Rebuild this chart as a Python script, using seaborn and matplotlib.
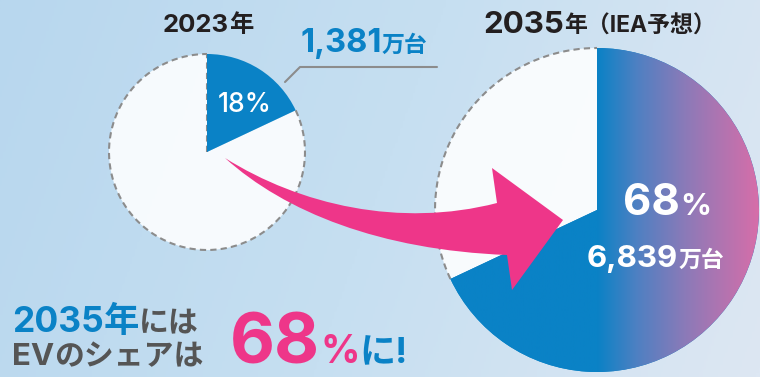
import numpy as np
import matplotlib
matplotlib.use("Agg")
import matplotlib.pyplot as plt
import seaborn as sns
from matplotlib.path import Path
from matplotlib.patches import PathPatch
from matplotlib.colors import LinearSegmentedColormap

sns.set_theme(style="white")
plt.rcParams['font.family'] = ['Inter', 'Noto Sans CJK JP', 'DejaVu Sans']

# ---- data ----
years = ['2023年', '2035年']
ev_share = [18, 68]            # %
ev_units = ['1,381', '6,839']  # 万台
subtitle_2035 = '年（IEA予想）'

BLUE = '#0A82C6'
PINK = '#EE3689'
DARK = '#231F20'
GRAY = '#555555'

W, H = 760, 377
fig = plt.figure(figsize=(W / 100, H / 100), dpi=100)
ax = fig.add_axes([0, 0, 1, 1])


def Y(y):
    return H - y


# background gradient
gx = np.linspace(0, 1, 300)
gy = np.linspace(0, 1, 150)
GX, GY = np.meshgrid(gx, gy)
bg_cmap = LinearSegmentedColormap.from_list('bg', ['#B8D7EE', '#C6DFF1', '#DDE7F3'])
bg = GX * 0.85 + 0.15 * (1 - GY)
ax.imshow(bg, cmap=bg_cmap, extent=(0, W, 0, H), origin='lower', aspect='auto', zorder=0)

# ---- pies ----
pies = [
    dict(center=(207, Y(152)), radius=98),
    dict(center=(597, Y(210)), radius=162),
]
wedge_sets = []
for share, p in zip(ev_share, pies):
    wedges, _ = ax.pie([share, 100 - share], colors=[BLUE, 'white'],
                       startangle=90, counterclock=False,
                       center=p['center'], radius=p['radius'],
                       wedgeprops=dict(linewidth=0))
    wedges[1].set_alpha(0.88)
    wedges[1].set_zorder(1)
    wedges[0].set_zorder(2)
    wedge_sets.append(wedges)
    # dashed outline of the rest part
    cx, cy = p['center']
    r = p['radius']
    start = 90 - 360 * share / 100
    th = np.radians(np.linspace(start, -270, 300))
    ax.plot(cx + r * np.cos(th), cy + r * np.sin(th), ls=(0, (3, 2)),
            color='#8C8C8C', lw=1.5, zorder=1.5)

# vertical dashed radius on small pie
cx, cy = pies[0]['center']
ax.plot([cx, cx], [cy, cy + pies[0]['radius']], ls=(0, (3, 2)), color='#8C8C8C',
        lw=1.5, zorder=1.5)

# gradient fill on big wedge
cx, cy = pies[1]['center']
r = pies[1]['radius']
gxx = np.linspace(cx - r, cx + r, 400)
vals = np.clip((gxx - cx) / r, 0, 1)
grad_cmap = LinearSegmentedColormap.from_list(
    'ev', [(0, BLUE), (0.25, '#4F80C2'), (0.55, '#8C7AB8'), (1, '#D66EA9')])
im = ax.imshow(vals[None, :], cmap=grad_cmap, vmin=0, vmax=1,
               extent=(cx - r, cx + r, cy - r, cy + r), aspect='auto', zorder=2.5)
im.set_clip_path(wedge_sets[1][0])

ax.set_xlim(0, W)
ax.set_ylim(0, H)
ax.set_aspect('equal')
ax.axis('off')

# leader line
ax.plot([285, 300, 437], [Y(82), Y(67), Y(67)], color='#8C8C8C', lw=1.5, zorder=3)

# ---- curved arrow ----
verts = [
    (225, 158),
    (300, 205), (400, 228), (497, 203),
    (492, 168), (563, 220), (512, 290), (507, 255),
    (380, 250), (285, 212), (225, 158),
    (225, 158),
]
codes = [Path.MOVETO,
         Path.CURVE4, Path.CURVE4, Path.CURVE4,
         Path.LINETO, Path.LINETO, Path.LINETO, Path.LINETO,
         Path.CURVE4, Path.CURVE4, Path.CURVE4,
         Path.CLOSEPOLY]
verts = [(x, Y(y)) for x, y in verts]
ax.add_patch(PathPatch(Path(verts, codes), facecolor=PINK, edgecolor='none', zorder=4))

# ---- texts ----
fig.canvas.draw()
renderer = fig.canvas.get_renderer()


def chain(x, y, pieces, z=5):
    for s, size, color, weight in pieces:
        t = ax.text(x, Y(y), s, fontsize=size, color=color, fontweight=weight,
                    ha='left', va='baseline', zorder=z)
        x += t.get_window_extent(renderer).width


chain(163, 32, [(years[0][:4], 18.5, DARK, 'bold'), (years[0][4:], 17.5, DARK, 'bold')])
chain(300, 52, [(ev_units[0], 23.5, BLUE, 'bold'), ('万台', 16.5, BLUE, 'bold')])
chain(218, 112, [(f'{ev_share[0]}%', 19, 'white', 'medium')])
chain(483, 33, [(years[1][:4], 22.5, DARK, 'bold'), (subtitle_2035, 16.5, DARK, 'bold')])
chain(623, 215, [(f'{ev_share[1]}', 31.5, 'white', 'bold'), ('%', 22, 'white', 'bold')])
chain(587, 267, [(ev_units[1], 22.5, 'white', 'bold'), ('万台', 16.5, 'white', 'bold')])

chain(12, 332, [(years[1][:4], 25.5, BLUE, 'bold'), (years[1][4:], 25.5, BLUE, 'bold'),
                ('には', 21.5, GRAY, 'bold')])
chain(12, 365, [('EV', 22.5, GRAY, 'bold'), ('のシェアは', 21.5, GRAY, 'bold')])
chain(230, 363, [(f'{ev_share[1]}', 50, PINK, 'bold'), ('%', 28, PINK, 'bold'),
                 ('に!', 26, BLUE, 'bold')])

fig.savefig('out.png', dpi=100)
